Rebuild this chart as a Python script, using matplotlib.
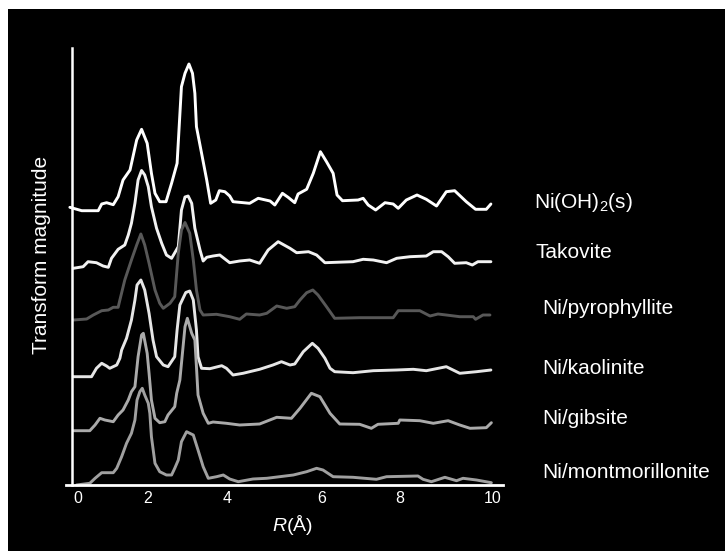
import numpy as np
import matplotlib
matplotlib.use("Agg")
import matplotlib.pyplot as plt
import matplotlib.transforms as mtransforms
from matplotlib.patches import Rectangle

plt.rcParams["font.family"] = ["Liberation Sans", "DejaVu Sans"]
plt.rcParams["mathtext.fontset"] = "custom"
plt.rcParams["mathtext.rm"] = "Liberation Sans"
plt.rcParams["mathtext.it"] = "Liberation Sans:italic"

# Fourier transform magnitudes, R in angstrom, each curve relative to its own offset
r_nioh2 = [-0.23, 0.11, 0.58, 0.68, 0.82, 1.01, 1.15, 1.29, 1.49, 1.68, 1.82, 1.98, 2.09, 2.18,
           2.30, 2.46, 2.60, 2.74, 2.85, 2.94, 3.04, 3.13, 3.19, 3.23, 3.36, 3.49, 3.59, 3.72,
           3.81, 3.95, 4.06, 4.13, 4.48, 4.66, 4.91, 5.01, 5.17, 5.29, 5.43, 5.50, 5.68, 5.82,
           5.97, 6.12, 6.29, 6.39, 6.53, 6.93, 7.06, 7.19, 7.38, 7.62, 7.83, 7.96, 8.14, 8.37,
           8.57, 8.79, 9.00, 9.18, 9.43, 9.63, 9.86, 9.96]
m_nioh2 = [0.07, -0.27, -0.27, 0.40, 0.53, 0.33, 1.13, 2.80, 3.80, 6.80, 7.87, 6.47, 3.47, 1.47,
           0.63, 0.63, 2.47, 4.47, 12.13, 13.47, 14.40, 13.47, 11.47, 8.13, 5.47, 2.80, 0.47, 0.80,
           1.73, 1.63, 1.20, 0.63, 0.47, 0.97, 0.70, 0.30, 1.47, 1.07, 0.53, 1.40, 1.87, 3.47,
           5.63, 4.63, 3.47, 1.30, 0.73, 0.80, 0.97, 0.30, -0.20, 0.53, 0.40, -0.03, 0.80, 1.30,
           0.87, 0.20, 1.63, 1.73, 0.63, -0.13, -0.13, 0.40]

r_tako = [-0.13, 0.15, 0.29, 0.53, 0.72, 0.87, 0.96, 1.15, 1.34, 1.44, 1.53, 1.63, 1.72, 1.82,
          1.91, 2.01, 2.09, 2.22, 2.35, 2.47, 2.60, 2.77, 2.85, 2.94, 3.02, 3.11, 3.19, 3.32,
          3.40, 3.49, 3.65, 3.82, 4.06, 4.27, 4.48, 4.69, 4.87, 5.08, 5.33, 5.47, 5.72, 5.89,
          6.08, 6.80, 7.06, 7.32, 7.66, 7.92, 8.22, 8.57, 8.72, 8.90, 9.04, 9.18, 9.43, 9.56,
          9.68, 9.96]
m_tako = [-0.03, 0.13, 0.63, 0.53, 0.20, 0.07, 0.97, 1.87, 2.30, 3.30, 4.47, 6.47, 8.80, 9.75,
          9.30, 8.13, 6.13, 3.97, 2.47, 1.30, 0.97, 2.13, 5.80, 7.10, 7.20, 6.47, 3.97, 1.80,
          0.70, 1.07, 1.20, 1.30, 0.53, 0.70, 0.80, 0.47, 1.80, 2.63, 1.97, 1.53, 1.63, 1.30,
          0.53, 0.63, 0.87, 0.80, 0.53, 0.97, 1.13, 1.20, 1.63, 1.63, 1.13, 0.47, 0.53, 0.30,
          0.63, 0.63]

r_pyro = [-0.13, 0.25, 0.44, 0.68, 0.87, 1.01, 1.15, 1.20, 1.34, 1.53, 1.68, 1.80, 1.91, 2.03,
          2.18, 2.30, 2.39, 2.56, 2.68, 2.77, 2.85, 2.94, 3.06, 3.15, 3.23, 3.32, 3.40, 3.74,
          4.06, 4.27, 4.41, 4.69, 4.84, 5.05, 5.26, 5.43, 5.54, 5.68, 5.81, 5.92, 6.12, 6.33,
          6.97, 7.83, 7.96, 8.43, 8.65, 8.82, 9.00, 9.29, 9.58, 9.63, 9.79, 9.94]
m_pyro = [0.00, 0.10, 0.50, 0.93, 1.00, 1.27, 1.27, 2.00, 4.00, 6.00, 7.50, 8.60, 7.50, 5.67,
          3.00, 1.67, 1.17, 1.67, 2.33, 6.67, 9.00, 9.75, 8.67, 6.00, 3.00, 1.00, 0.50, 0.57,
          0.33, 0.07, 0.60, 0.50, 0.67, 1.40, 1.17, 1.33, 2.00, 2.73, 3.00, 2.50, 1.33, 0.17,
          0.23, 0.23, 0.93, 0.93, 0.40, 0.60, 0.50, 0.33, 0.33, 0.07, 0.50, 0.50]

r_kaol = [-0.13, 0.39, 0.53, 0.68, 0.82, 0.91, 1.11, 1.20, 1.25, 1.39, 1.53, 1.63, 1.69, 1.80,
          1.91, 2.03, 2.13, 2.22, 2.39, 2.51, 2.68, 2.74, 2.81, 2.96, 3.06, 3.15, 3.23, 3.27,
          3.36, 3.57, 3.87, 3.99, 4.13, 4.34, 4.69, 4.97, 5.15, 5.33, 5.43, 5.61, 5.80, 5.92,
          6.08, 6.21, 6.33, 6.80, 7.32, 7.92, 8.29, 8.57, 9.00, 9.29, 9.65, 9.96]
m_kaol = [0.03, 0.03, 0.87, 1.37, 1.10, 0.87, 1.20, 1.87, 2.70, 3.87, 5.70, 7.70, 9.20, 9.70,
          8.70, 6.37, 3.70, 2.03, 1.20, 1.03, 2.03, 4.70, 7.20, 8.45, 8.60, 7.70, 4.70, 2.03,
          0.87, 0.83, 1.13, 0.87, 0.20, 0.37, 0.77, 1.20, 1.53, 1.20, 1.30, 2.53, 3.37, 2.87,
          1.87, 0.87, 0.53, 0.43, 0.63, 0.70, 0.77, 0.63, 1.03, 0.37, 0.53, 0.70]

r_gibb = [-0.13, 0.34, 0.49, 0.63, 0.77, 1.01, 1.15, 1.29, 1.44, 1.53, 1.63, 1.72, 1.82, 1.87,
          1.98, 2.03, 2.09, 2.18, 2.30, 2.43, 2.51, 2.68, 2.73, 2.81, 2.94, 3.00, 3.11, 3.19,
          3.23, 3.27, 3.40, 3.53, 3.65, 3.99, 4.27, 4.69, 5.05, 5.36, 5.54, 5.78, 5.96, 6.21,
          6.46, 6.97, 7.27, 7.44, 7.96, 8.00, 8.43, 8.72, 9.04, 9.29, 9.51, 9.86, 9.97]
m_gibb = [0.03, 0.03, 0.60, 1.27, 1.10, 0.93, 1.60, 2.10, 3.10, 3.93, 4.43, 7.43, 9.60, 9.77,
          7.77, 5.77, 3.10, 1.27, 0.83, 0.93, 1.60, 2.43, 3.77, 5.10, 10.43, 11.27, 9.77, 9.10,
          6.43, 3.60, 1.77, 0.77, 0.90, 0.77, 0.60, 0.70, 1.37, 1.27, 2.27, 3.77, 3.43, 1.77,
          0.70, 0.67, 0.27, 0.67, 0.77, 1.10, 1.03, 0.77, 1.03, 0.60, 0.27, 0.33, 0.83]

r_mont = [-0.04, 0.34, 0.49, 0.68, 1.01, 1.11, 1.25, 1.39, 1.53, 1.63, 1.69, 1.77, 1.84, 1.91,
          2.01, 2.05, 2.09, 2.18, 2.30, 2.47, 2.60, 2.68, 2.77, 2.85, 2.98, 3.15, 3.27, 3.40,
          3.53, 3.74, 3.91, 4.06, 4.24, 4.55, 4.84, 5.40, 5.68, 5.89, 6.03, 6.29, 6.80, 7.40,
          7.66, 8.39, 8.50, 8.68, 8.97, 9.22, 9.36, 9.65, 9.97]
m_mont = [0.00, 0.17, 0.67, 1.23, 1.23, 1.67, 2.83, 4.17, 5.17, 6.50, 8.50, 9.33, 9.67, 9.00,
          8.17, 7.17, 4.83, 2.17, 1.33, 1.00, 1.00, 1.67, 2.50, 4.33, 5.33, 5.00, 3.50, 1.83,
          0.67, 0.83, 1.00, 0.60, 0.33, 0.60, 0.67, 1.00, 1.33, 1.67, 1.50, 0.83, 0.77, 0.57,
          0.83, 0.90, 0.57, 0.33, 0.77, 0.43, 0.67, 0.50, 0.23]

samples = ["Ni(OH)$_2$(s)", "Takovite", "Ni/pyrophyllite", "Ni/kaolinite", "Ni/gibsite",
           "Ni/montmorillonite"]
offsets = [27.7, 21.7, 16.5, 10.8, 5.4, 0.0]
colors = ["#ffffff", "#f2f2f2", "#585858", "#e6e6e6", "#aaaaaa", "#a0a0a0"]
curves = [(r_nioh2, m_nioh2), (r_tako, m_tako), (r_pyro, m_pyro),
          (r_kaol, m_kaol), (r_gibb, m_gibb), (r_mont, m_mont)]
label_x = [1.070, 1.075, 1.089, 1.089, 1.089, 1.089]
label_y = [28.3, 23.3, 17.6, 11.7, 6.7, 1.3]
xticks = [0, 2, 4, 6, 8, 10]

# the printed R axis is not evenly spaced: relative width of each 2 A step
r_knots = [-2, 0, 2, 4, 6, 8, 10, 12]
warp = np.cumsum([0, 35, 35, 39.5, 47.5, 39, 46.5, 46.5])


def r_forward(r):
    return np.interp(r, r_knots, warp)


def r_inverse(u):
    return np.interp(u, warp, r_knots)


fig = plt.figure(figsize=(7.25, 5.51), dpi=100, facecolor="white")
# black panel, leaving a thin white margin at the top and left
fig.patches.append(Rectangle((8 / 725, 0), 1, 1 - 9 / 551, transform=fig.transFigure,
                             facecolor="black", edgecolor="none", zorder=-10))
ax = fig.add_axes([66 / 725, 66 / 551, 437 / 725, 437 / 551])
ax.set_facecolor("none")
ax.set_zorder(1)
ax.set_xscale("function", functions=(r_forward, r_inverse))

for (r, m), off, c in zip(curves, offsets, colors):
    ax.plot(r, np.array(m) + off, color=c, linewidth=2.1, solid_joinstyle="round",
            solid_capstyle="round", clip_on=False)

trans = mtransforms.blended_transform_factory(ax.transAxes, ax.transData)
for name, x, y in zip(samples, label_x, label_y):
    ax.text(x, y, name, color="white", fontsize=15, ha="left", va="center",
            transform=trans, clip_on=False)

ax.set_xlim(-0.34, 10.22)
ax.set_ylim(0, 43.7)
ax.set_xticks(xticks)
ax.set_xticklabels([str(t) for t in xticks])
ax.xaxis.set_minor_locator(matplotlib.ticker.NullLocator())
ax.set_yticks([])
ax.tick_params(axis="x", length=0, pad=4, labelsize=11.5, labelcolor="white")
for side in ["top", "right"]:
    ax.spines[side].set_visible(False)
ax.spines["bottom"].set_color("white")
ax.spines["bottom"].set_linewidth(2)
ax.spines["left"].set_color("white")
ax.spines["left"].set_linewidth(1.8)
ax.spines["left"].set_position(("data", -0.16))

fig.text(292 / 725, 1 - 525 / 551, "$\\mathit{R}$(Å)", color="white", fontsize=14,
         ha="center", va="center")
fig.text(42 / 725, 1 - 255 / 551, "Transform magnitude", color="white", fontsize=15,
         rotation=90, ha="center", va="center")

fig.savefig("out.png", dpi=100, facecolor=fig.get_facecolor())
